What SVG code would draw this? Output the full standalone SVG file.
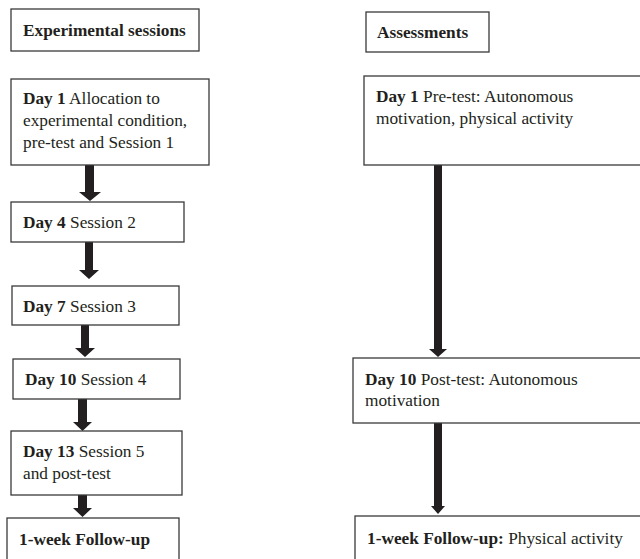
<svg xmlns="http://www.w3.org/2000/svg" width="640" height="559" viewBox="0 0 640 559">
<style>
.box{fill:#fff;stroke:#3a3a3a;stroke-width:1.3}
text{font-family:"Liberation Serif","Times New Roman",serif;font-size:17.3px;fill:#231f20}
.b{font-weight:bold}
.arr{fill:#231f20}
</style>
<rect width="640" height="559" fill="#fff"/>
<g id="connectors">
<path class="arr" d="M85,165 H94 V192 H101 L90,201 L79,192 H85 Z"/>
<path class="arr" d="M85,242 H93 V270 H99 L89,279 L79,270 H85 Z"/>
<path class="arr" d="M81,325 H89 V348 H95 L85,357 L75,348 H81 Z"/>
<path class="arr" d="M78,399 H87 V422 H92 L82.5,431 L73,422 H78 Z"/>
<path class="arr" d="M78,495 H87 V508 H92 L82.5,517 L73,508 H78 Z"/>
<path class="arr" d="M434,165 H442 V349 H447 L438,357 L429,349 H434 Z"/>
<path class="arr" d="M434,423 H442 V506 H445 L438,514 L431,506 H434 Z"/>
</g>
<g id="n-exp-title"><rect class="box" x="11" y="9" width="188" height="42"/><text class="b" x="23" y="36">Experimental sessions</text></g>
<g id="n-day1"><rect class="box" x="11" y="79" width="198" height="86"/>
<text x="23" y="104"><tspan class="b">Day 1</tspan> Allocation to</text>
<text x="23" y="126">experimental condition,</text>
<text x="23" y="148">pre-test and Session 1</text></g>
<g id="n-day4"><rect class="box" x="11" y="202" width="173" height="40"/><text x="23" y="228"><tspan class="b">Day 4</tspan> Session 2</text></g>
<g id="n-day7"><rect class="box" x="12" y="286" width="167" height="39"/><text x="23" y="312"><tspan class="b">Day 7</tspan> Session 3</text></g>
<g id="n-day10"><rect class="box" x="13" y="359" width="167" height="40"/><text x="25" y="385"><tspan class="b">Day 10</tspan> Session 4</text></g>
<g id="n-day13"><rect class="box" x="11" y="431" width="171" height="64"/>
<text x="23" y="457"><tspan class="b">Day 13</tspan> Session 5</text>
<text x="23" y="479">and post-test</text></g>
<g id="n-followup"><rect class="box" x="7" y="518" width="172" height="50"/><text class="b" x="19" y="545">1-week Follow-up</text></g>
<g id="n-assess-title"><rect class="box" x="366" y="12" width="123" height="40"/><text class="b" x="377" y="38">Assessments</text></g>
<g id="n-a-day1"><rect class="box" x="364" y="76" width="290" height="89"/>
<text x="376" y="102"><tspan class="b">Day 1</tspan> Pre-test: Autonomous</text>
<text x="376" y="124">motivation, physical activity</text></g>
<g id="n-a-day10"><rect class="box" x="353" y="358" width="300" height="65"/>
<text x="365" y="385"><tspan class="b">Day 10</tspan> Post-test: Autonomous</text>
<text x="365" y="406">motivation</text></g>
<g id="n-a-followup"><rect class="box" x="355" y="516" width="300" height="60"/>
<text x="367" y="544"><tspan class="b">1-week Follow-up:</tspan> Physical activity</text></g>
</svg>
